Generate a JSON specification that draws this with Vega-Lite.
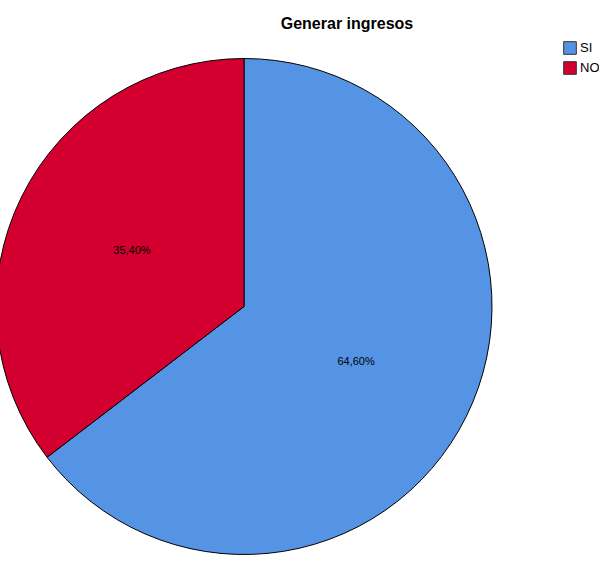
{
  "$schema": "https://vega.github.io/schema/vega-lite/v6.json",
  "width": 488,
  "height": 541,
  "autosize": {"type": "none"},
  "padding": {"top": 36, "left": 0, "right": 111, "bottom": 0},
  "background": "white",
  "title": {
    "text": "Generar ingresos",
    "font": "Liberation Sans",
    "fontSize": 16,
    "fontWeight": "bold",
    "color": "black",
    "anchor": "middle",
    "dx": 103,
    "offset": 4
  },
  "data": {
    "values": [
      {"respuesta": "SI", "porcentaje": 64.6, "etiqueta": "64,60%", "orden": 1},
      {"respuesta": "NO", "porcentaje": 35.4, "etiqueta": "35,40%", "orden": 2}
    ]
  },
  "encoding": {
    "theta": {"field": "porcentaje", "type": "quantitative", "stack": true},
    "order": {"field": "orden", "type": "quantitative"}
  },
  "layer": [
    {
      "mark": {"type": "arc", "radius": 248, "stroke": "black", "strokeWidth": 1},
      "encoding": {
        "color": {
          "field": "respuesta",
          "type": "nominal",
          "scale": {"domain": ["SI", "NO"], "range": ["#5594e4", "#d3002f"]},
          "legend": {
            "orient": "none",
            "legendX": 563,
            "legendY": 5,
            "title": null,
            "symbolType": "square",
            "symbolSize": 160,
            "symbolStrokeColor": "#333333",
            "symbolStrokeWidth": 1,
            "symbolOpacity": 1,
            "labelFont": "Liberation Sans",
            "labelFontSize": 13,
            "labelColor": "black",
            "rowPadding": 2,
            "labelOffset": 3
          }
        }
      }
    },
    {
      "mark": {"type": "text", "radius": 125, "font": "Liberation Sans", "fontSize": 11, "color": "black"},
      "encoding": {
        "text": {"field": "etiqueta", "type": "nominal"}
      }
    }
  ]
}
